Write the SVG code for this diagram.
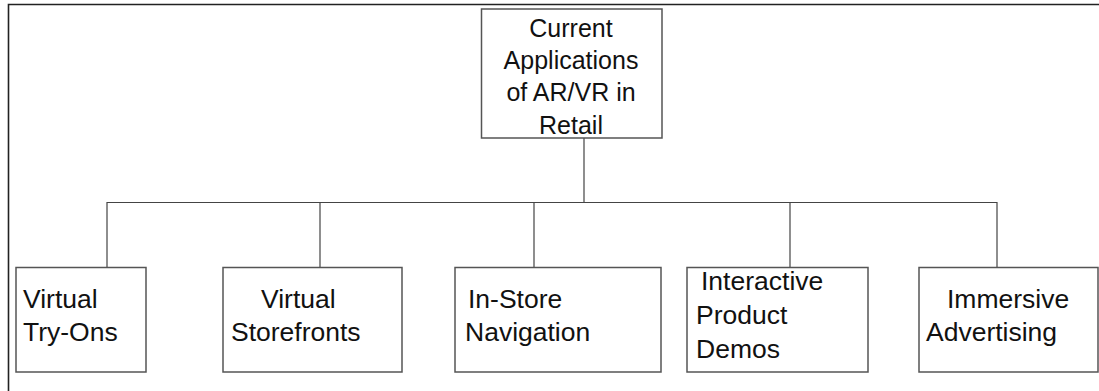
<svg xmlns="http://www.w3.org/2000/svg" width="1099" height="391" viewBox="0 0 1099 391">
<style>
.box{fill:#fff;stroke:#555;stroke-width:1.5}
.conn{fill:none;stroke:#444;stroke-width:1.2}
.t{font-family:"Liberation Sans",Arial,sans-serif;fill:#111}
.top{font-size:25px;text-anchor:middle}
.b{font-size:26.5px}
</style>
<rect width="1099" height="391" fill="#fff"/>
<path d="M8.5 391 V4.5 H1099" fill="none" stroke="#222" stroke-width="1.6"/>
<g id="connectors">
<path class="conn" d="M584 138 V202.5"/>
<path class="conn" d="M107 267 V202.5 H997 V267"/>
<path class="conn" d="M320 202.5 V267"/>
<path class="conn" d="M534 202.5 V267"/>
<path class="conn" d="M790 202.5 V267"/>
</g>
<g id="root">
<rect class="box" x="481.5" y="9" width="180.5" height="129"/>
<text class="t top" x="571" y="37">Current</text>
<text class="t top" x="571" y="69">Applications</text>
<text class="t top" x="571" y="101">of AR/VR in</text>
<text class="t top" x="571" y="134">Retail</text>
</g>
<g id="n1">
<rect class="box" x="16" y="267.5" width="130" height="104.5"/>
<text class="t b" x="23" y="308">Virtual</text>
<text class="t b" x="23" y="341">Try-Ons</text>
</g>
<g id="n2">
<rect class="box" x="223" y="267.5" width="179" height="104.5"/>
<text class="t b" x="261" y="308">Virtual</text>
<text class="t b" x="231" y="341">Storefronts</text>
</g>
<g id="n3">
<rect class="box" x="455" y="267.5" width="206" height="104.5"/>
<text class="t b" x="468" y="308">In-Store</text>
<text class="t b" x="465" y="341">Navigation</text>
</g>
<g id="n4">
<rect class="box" x="687" y="267.5" width="181" height="104.5"/>
<text class="t b" x="701" y="290">Interactive</text>
<text class="t b" x="696" y="324">Product</text>
<text class="t b" x="696" y="358">Demos</text>
</g>
<g id="n5">
<rect class="box" x="919" y="267.5" width="179" height="104.5"/>
<text class="t b" x="947" y="308">Immersive</text>
<text class="t b" x="926" y="341">Advertising</text>
</g>
</svg>
